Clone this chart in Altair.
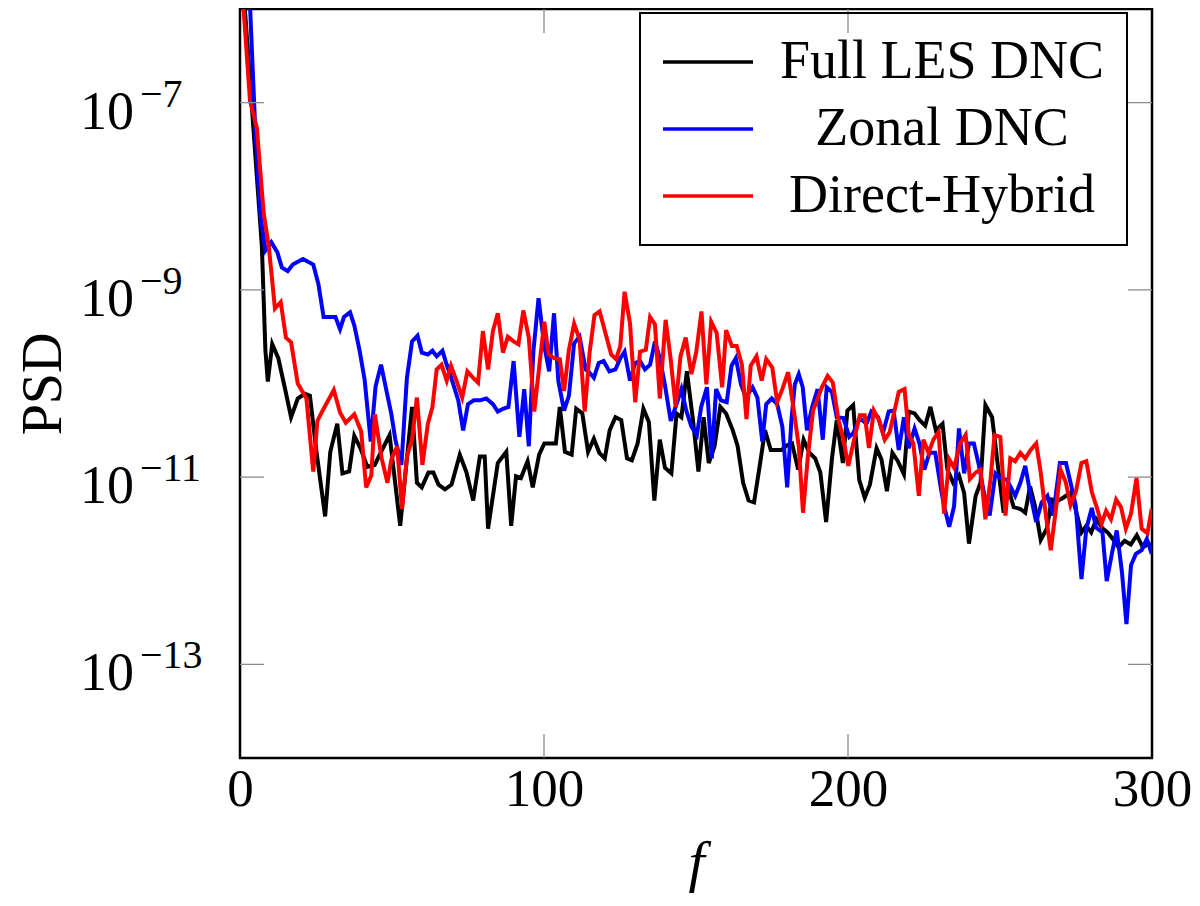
import altair as alt
import pandas as pd

FONT = "Liberation Serif"
SERIES = ["Full LES DNC", "Zonal DNC", "Direct-Hybrid"]
COLORS = ["#000000", "#0000ff", "#ff0000"]

X_TICKS = [0, 100, 200, 300]
Y_TICKS = [1e-7, 1e-9, 1e-11, 1e-13]
Y_EXPONENTS = ["\u22127", "\u22129", "\u221211", "\u221213"]

# (f, log10 PSD)
full_les_dnc = [
    (0.5, -5.5), (4.4, -7.27), (6.1, -8.04), (7.2, -8.54), (8.35, -9.64), (9.15, -9.98),
    (10.6, -9.58), (12.6, -9.73), (14.9, -10.07), (16.8, -10.36), (19.0, -10.16), (21.3, -10.11),
    (23.0, -10.13), (25.0, -10.69), (28.0, -11.42), (29.7, -10.73), (32.0, -10.43), (33.7, -10.96),
    (35.9, -10.94), (37.6, -10.56), (39.6, -10.69), (41.9, -10.89), (44.3, -10.87), (46.4, -10.73),
    (49.2, -10.55), (52.7, -11.52), (56.6, -10.25), (58.2, -11.06), (59.8, -11.11), (62.0, -10.95),
    (63.6, -10.95), (65.3, -11.08), (67.4, -11.13), (69.6, -11.08), (72.3, -10.76), (74.5, -10.95),
    (76.7, -11.25), (78.9, -10.78), (80.5, -10.78), (81.6, -11.55), (84.8, -10.85), (87.6, -10.73),
    (89.2, -11.52), (90.8, -10.99), (92.4, -11.01), (94.6, -10.83), (96.3, -11.11), (98.4, -10.76),
    (100.1, -10.64), (103.9, -10.64), (105.2, -10.25), (106.9, -10.73), (109.1, -10.76), (110.6, -10.27),
    (112.6, -10.32), (114.5, -10.73), (116.4, -10.59), (118.2, -10.74), (120.0, -10.80), (121.6, -10.50),
    (123.5, -10.36), (125.4, -10.39), (127.3, -10.80), (128.9, -10.82), (130.8, -10.64), (132.7, -10.27),
    (134.5, -10.41), (136.3, -11.25), (138.1, -10.60), (139.8, -10.90), (141.9, -10.96), (143.6, -10.32),
    (145.2, -10.36), (147.0, -9.87), (149.0, -10.39), (150.8, -10.94), (152.5, -10.36), (154.2, -10.85),
    (156.1, -10.67), (158.0, -10.25), (159.9, -10.32), (162.1, -10.50), (163.7, -10.67), (165.5, -11.06),
    (167.3, -11.25), (169.1, -11.27), (171.1, -10.85), (172.7, -10.50), (174.6, -10.71), (176.4, -10.71),
    (178.1, -10.71), (180.0, -10.66), (181.6, -10.64), (183.6, -10.92), (185.4, -10.60), (187.3, -10.74),
    (189.2, -10.80), (190.9, -10.95), (192.8, -11.48), (194.7, -10.81), (196.3, -10.39), (198.3, -10.85),
    (199.8, -10.29), (201.7, -10.23), (203.7, -11.03), (205.5, -11.22), (207.2, -11.08), (209.4, -10.69),
    (211.0, -10.81), (212.8, -11.15), (214.6, -10.74), (216.4, -10.83), (218.4, -10.97), (220.0, -10.30),
    (221.9, -10.32), (223.5, -10.39), (225.4, -10.45), (227.1, -10.25), (228.9, -10.50), (231.1, -10.43),
    (232.7, -10.92), (234.6, -11.06), (236.5, -10.98), (238.2, -11.17), (239.8, -11.71), (242.0, -11.20),
    (243.6, -11.06), (245.2, -10.23), (247.4, -10.36), (249.6, -10.96), (251.2, -11.38), (252.8, -11.13),
    (254.5, -11.32), (256.7, -11.34), (258.3, -11.38), (259.9, -11.10), (261.5, -11.31), (263.4, -11.67),
    (265.4, -11.55), (267.0, -11.24), (269.2, -11.25), (270.8, -11.22), (273.0, -11.17), (274.6, -11.31),
    (276.8, -11.59), (278.4, -11.52), (280.0, -11.59), (281.7, -11.45), (283.8, -11.55), (285.4, -11.59),
    (287.1, -11.66), (289.0, -11.75), (291.0, -11.68), (293.0, -11.72), (295.0, -11.62), (297.0, -11.75),
    (299.5, -11.70),
]

zonal_dnc = [
    (2.5, -5.3), (3.6, -6.2), (5.0, -7.27), (6.66, -8.18), (8.35, -8.58), (10.3, -8.49),
    (12.3, -8.60), (13.75, -8.76), (15.7, -8.80), (17.35, -8.73), (20.7, -8.67), (24.1, -8.73),
    (25.8, -8.94), (27.5, -9.29), (29.7, -9.29), (31.4, -9.29), (32.9, -9.42), (34.2, -9.29),
    (36.2, -9.24), (37.6, -9.38), (39.3, -9.64), (41.0, -9.96), (43.0, -10.62), (44.6, -10.03),
    (46.4, -9.80), (48.0, -10.05), (49.8, -10.33), (51.1, -10.60), (53.1, -10.87), (54.9, -9.94),
    (56.6, -9.55), (58.4, -9.49), (59.8, -9.67), (61.8, -9.69), (63.3, -9.65), (64.7, -9.71),
    (66.6, -9.65), (68.0, -9.80), (69.6, -9.95), (71.8, -10.18), (73.4, -10.50), (75.0, -10.22),
    (76.9, -10.18), (78.9, -10.18), (81.0, -10.16), (83.2, -10.22), (84.8, -10.30), (86.5, -10.27),
    (88.3, -10.25), (90.0, -9.76), (91.9, -10.57), (93.5, -10.06), (95.0, -10.67), (96.5, -9.66),
    (98.2, -9.09), (100.1, -9.60), (101.7, -9.87), (103.3, -9.25), (104.7, -9.97), (106.6, -10.29),
    (108.2, -10.13), (109.9, -9.57), (111.7, -9.50), (113.7, -9.85), (114.8, -9.88), (116.4, -9.94),
    (118.0, -9.78), (119.6, -9.76), (121.5, -9.87), (123.5, -9.85), (125.1, -9.73), (126.5, -9.66),
    (128.3, -9.97), (130.0, -9.78), (131.6, -9.76), (133.2, -9.85), (134.9, -9.80), (136.5, -9.55),
    (138.1, -9.73), (139.8, -10.02), (141.7, -10.40), (143.6, -10.22), (145.2, -10.06), (146.8, -10.29),
    (148.5, -10.46), (150.3, -10.55), (151.7, -10.25), (153.6, -10.04), (155.2, -10.80), (156.6, -10.06),
    (158.2, -10.18), (160.1, -10.20), (161.7, -9.81), (163.1, -9.73), (164.8, -10.01), (166.4, -10.15),
    (168.6, -10.04), (170.2, -10.15), (171.8, -10.62), (173.1, -10.22), (174.9, -10.16), (176.7, -10.22),
    (178.4, -10.46), (180.0, -11.11), (181.4, -10.39), (182.5, -10.01), (183.8, -9.90), (185.1, -10.04),
    (186.5, -10.50), (188.2, -10.25), (190.0, -10.06), (191.7, -10.60), (193.0, -10.04), (194.7, -10.09),
    (196.3, -10.36), (198.5, -10.37), (200.4, -10.57), (201.7, -10.53), (203.9, -10.37), (206.1, -10.43),
    (207.7, -10.30), (209.9, -10.36), (211.5, -10.53), (213.4, -10.30), (215.0, -10.29), (216.7, -10.71),
    (218.4, -10.36), (220.0, -10.69), (221.9, -10.48), (223.5, -10.64), (225.1, -10.92), (226.8, -10.74),
    (228.7, -10.74), (230.6, -11.13), (231.6, -11.31), (233.3, -11.53), (234.9, -11.31), (236.5, -10.48),
    (238.2, -10.96), (239.8, -10.64), (241.4, -10.64), (243.1, -10.88), (244.9, -11.20), (246.6, -11.41),
    (248.5, -10.96), (250.1, -11.01), (252.3, -11.03), (255.0, -11.20), (256.7, -11.06), (258.3, -10.88),
    (260.1, -11.20), (261.9, -11.48), (263.7, -11.27), (265.6, -11.20), (267.5, -11.41), (269.7, -10.85),
    (271.7, -10.85), (273.0, -11.03), (274.9, -11.30), (276.8, -12.09), (278.4, -11.55), (280.2, -11.33),
    (281.6, -11.54), (283.7, -11.59), (285.1, -12.11), (286.9, -11.80), (288.4, -11.57), (290.1, -12.01),
    (291.6, -12.57), (293.1, -11.94), (294.7, -11.82), (296.6, -11.78), (298.3, -11.66), (299.9, -11.82),
]

direct_hybrid = [
    (0.2, -5.55), (3.29, -6.98), (5.54, -7.27), (7.79, -8.18), (9.48, -8.54), (11.5, -9.20),
    (13.4, -9.13), (15.1, -9.51), (16.8, -9.56), (19.0, -10.00), (21.85, -10.16), (24.1, -10.94),
    (25.45, -10.40), (27.5, -10.27), (30.85, -10.07), (32.9, -10.31), (34.8, -10.42), (37.6, -10.33),
    (39.85, -10.51), (41.5, -11.11), (43.2, -10.98), (44.35, -10.33), (46.6, -10.80), (48.5, -11.06),
    (49.8, -10.81), (51.7, -10.67), (53.3, -11.34), (54.9, -10.78), (56.6, -10.60), (58.2, -10.15),
    (60.0, -10.87), (61.8, -10.43), (63.3, -10.25), (64.7, -9.85), (66.3, -9.80), (68.0, -9.97),
    (69.4, -9.81), (71.2, -9.97), (73.1, -10.15), (74.8, -9.87), (76.7, -9.94), (78.3, -9.99),
    (79.9, -9.44), (81.6, -9.85), (83.2, -9.44), (84.8, -9.25), (86.5, -9.67), (88.1, -9.50),
    (90.0, -9.55), (91.6, -9.58), (93.2, -9.22), (95.0, -9.51), (96.8, -10.30), (98.4, -9.83),
    (100.1, -9.34), (101.5, -9.69), (103.3, -9.73), (105.2, -9.74), (106.6, -10.08), (108.2, -9.64),
    (109.9, -9.36), (111.7, -9.53), (113.4, -10.30), (115.0, -9.67), (116.6, -9.27), (118.3, -9.23),
    (120.2, -9.46), (122.1, -9.69), (123.7, -9.74), (125.1, -9.60), (126.5, -9.02), (128.3, -9.36),
    (130.0, -10.20), (131.6, -9.66), (133.5, -9.64), (134.9, -9.29), (136.5, -9.37), (138.1, -10.16),
    (140.0, -9.32), (141.6, -9.72), (143.3, -10.25), (144.9, -9.71), (146.6, -9.51), (148.5, -9.90),
    (150.1, -9.66), (151.8, -9.23), (153.4, -10.01), (155.0, -9.34), (156.8, -9.46), (158.6, -10.04),
    (159.9, -9.43), (161.8, -9.60), (163.4, -9.60), (165.1, -9.80), (166.6, -10.38), (168.0, -9.81),
    (169.9, -9.71), (171.6, -9.97), (173.1, -9.74), (175.1, -9.83), (176.7, -10.20), (178.4, -10.06),
    (180.3, -9.88), (182.2, -10.29), (183.8, -10.67), (185.2, -11.38), (186.8, -10.78), (188.5, -10.29),
    (191.4, -10.04), (193.3, -9.92), (195.0, -9.99), (196.8, -10.38), (198.5, -10.60), (200.1, -10.88),
    (202.0, -10.60), (203.9, -10.34), (205.5, -10.34), (206.9, -10.69), (208.5, -10.29), (210.2, -10.39),
    (212.1, -10.60), (213.7, -10.52), (215.3, -10.29), (216.7, -10.09), (218.6, -10.06), (220.0, -10.55),
    (221.5, -10.64), (223.3, -11.20), (224.8, -10.60), (226.5, -10.74), (228.1, -10.60), (229.8, -10.52),
    (231.6, -11.39), (233.3, -10.81), (234.9, -10.90), (236.9, -10.64), (238.7, -10.55), (240.1, -11.02),
    (242.0, -10.95), (243.6, -10.92), (245.2, -11.45), (246.9, -11.02), (248.2, -10.55), (250.1, -10.57),
    (251.8, -11.41), (253.4, -10.80), (255.0, -10.83), (256.7, -10.74), (258.3, -10.80), (260.1, -10.71),
    (261.9, -10.64), (263.4, -10.95), (265.1, -11.41), (266.7, -11.78), (268.4, -11.34), (269.9, -10.92),
    (271.6, -11.05), (273.2, -11.30), (275.0, -11.15), (276.8, -10.85), (278.4, -10.83), (280.2, -11.16),
    (281.9, -11.33), (283.4, -11.50), (284.9, -11.36), (286.5, -11.45), (288.2, -11.24), (289.8, -11.32),
    (291.4, -11.55), (293.1, -11.39), (294.9, -11.01), (296.6, -11.55), (298.5, -11.60), (299.9, -11.34),
]

W, H = 912, 749

xscale = alt.Scale(domain=[0, 300], nice=False, zero=False)
yscale = alt.Scale(type="log", domain=[1e-14, 1e-6], nice=False)
cscale = alt.Scale(domain=SERIES, range=COLORS)

xaxis = alt.Axis(
    values=X_TICKS, ticks=False, tickSize=0, domain=False, grid=False,
    labelFont=FONT, labelFontSize=53, labelColor="black", labelBaseline="alphabetic",
    labelPadding=47, labelFlush=False, labelAngle=0,
    title="f", titleFont=FONT, titleFontSize=58, titleFontStyle="italic",
    titleFontWeight="normal", titleColor="black", titleY=122, titleBaseline="alphabetic",
)
yaxis = alt.Axis(
    values=Y_TICKS, labels=False, ticks=False, tickSize=0, domain=False, grid=False,
    title="PSD", titleFont=FONT, titleFontSize=56, titleFontWeight="normal",
    titleColor="black", titleX=-197, titleY=H / 2, titleAngle=270,
    titleBaseline="middle", titleAlign="center",
)
legend = alt.Legend(
    title=None, orient="none", legendX=400, legendY=4,
    symbolType="M-3,0H3", symbolSize=900, symbolStrokeWidth=3.5, symbolOffset=19,
    labelFont=FONT, labelFontSize=54, labelColor="black", labelAlign="center",
    labelOffset=207, labelLimit=0, rowPadding=13, padding=22,
    strokeColor="black",
)

X = lambda field: alt.X(field, scale=xscale, axis=xaxis)
Y = lambda field: alt.Y(field, scale=yscale, axis=yaxis)

layers = []
for name, pts in zip(SERIES, [full_les_dnc, zonal_dnc, direct_hybrid]):
    df = pd.DataFrame(pts, columns=["f", "logpsd"])
    df["psd"] = 10.0 ** df["logpsd"]
    df["series"] = name
    layers.append(
        alt.Chart(df).mark_line(clip=True, strokeWidth=4).encode(
            x=X("f:Q"),
            y=Y("psd:Q"),
            color=alt.Color("series:N", scale=cscale, legend=legend),
            order=alt.Order("f:Q"),
        )
    )

ytick_df = pd.DataFrame({"v": Y_TICKS, "e": Y_EXPONENTS})
xtick_df = pd.DataFrame({"v": [100, 200]})
TICK_LEN = 24
tick_style = dict(color="#8c8c8c", strokeWidth=1.3)

ticks_left = alt.Chart(ytick_df).mark_rule(**tick_style).encode(
    y=Y("v:Q"), x=alt.value(0), x2=alt.value(TICK_LEN))
ticks_right = alt.Chart(ytick_df).mark_rule(**tick_style).encode(
    y=Y("v:Q"), x=alt.value(W - TICK_LEN), x2=alt.value(W))
ticks_bottom = alt.Chart(xtick_df).mark_rule(**tick_style).encode(
    x=X("v:Q"), y=alt.value(H - TICK_LEN), y2=alt.value(H))
ticks_top = alt.Chart(xtick_df).mark_rule(**tick_style).encode(
    x=X("v:Q"), y=alt.value(0), y2=alt.value(TICK_LEN))

ylab_base = alt.Chart(ytick_df).mark_text(
    text="10", align="right", baseline="alphabetic", dy=26, font=FONT, fontSize=54, color="black"
).encode(y=Y("v:Q"), x=alt.value(-106))
ylab_exp = alt.Chart(ytick_df).mark_text(
    align="left", baseline="alphabetic", dy=4, font=FONT, fontSize=40, color="black"
).encode(y=Y("v:Q"), x=alt.value(-100), text="e:N")

chart = alt.layer(
    *layers, ticks_left, ticks_right, ticks_bottom, ticks_top, ylab_base, ylab_exp
).properties(
    width=W, height=H,
    autosize=alt.AutoSizeParams(type="none"),
    padding={"left": 232, "top": 1, "right": 40, "bottom": 140},
    background="white",
).configure_view(
    stroke="black", strokeWidth=2.5
).configure_legend(
    strokeWidth=2
)

chart.save("out.html", embed_options={"renderer": "svg", "actions": False})
